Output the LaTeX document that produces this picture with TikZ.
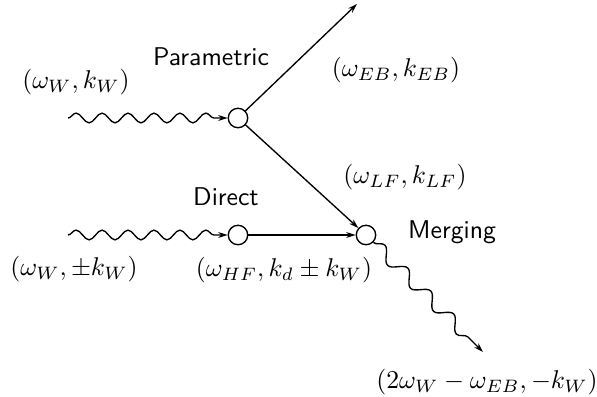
\documentclass[tikz,border=0pt]{standalone}
\usepackage{amsmath}
\usetikzlibrary{arrows,arrows.meta,positioning,decorations.pathmorphing,calc}

\begin{document}
\begin{tikzpicture}[x=0.37pt, y=-0.37pt, >={Stealth[length=3.5pt,width=2.2pt]}, line width=0.5pt]

        \tikzstyle{vertex} = [draw, circle, inner sep=0pt, minimum size=7.2pt, fill=white]
        \tikzstyle{wave} = [decorate, decoration={snake, segment length=9.6pt, amplitude=1.8pt, post length=3pt}]
        \tikzstyle{bigwave} = [decorate, decoration={snake, segment length=12pt, amplitude=2.3pt, post length=3pt}]
        \tikzstyle{stage} = [font=\sffamily, scale=0.95]
        \tikzstyle{pair} = [scale=0.95]
        \tikzstyle{input} = [coordinate]
        \tikzstyle{output} = [coordinate]

        \useasboundingbox (0,0) rectangle (597,396);

        \node [vertex] (P) at (238,118) {};
        \node [vertex] (D) at (238,235) {};
        \node [vertex] (M) at (366,235) {};

        \node [input] (w1) at (68,118) {};
        \node [input] (w2) at (68,235) {};
        \node [output] (eb) at (357,4) {};
        \node [output] (out) at (483,352) {};

        \draw [->, wave] (w1) -- (P);
        \draw [->, wave] (w2) -- (D);
        \draw [->] (P) -- (eb);
        \draw [->] (P) -- (M);
        \draw [->] (D) -- (M);
        \draw [->, bigwave] (M) -- (out);

        \node [stage] (par) at (211,57) {Parametric};
        \node [stage] (dir) at (226,197) {Direct};
        \node [stage] (mer) at (452,232) {Merging};

        \node [pair] (kw) at (76,82) {$(\omega_W, k_W)$};
        \node [pair] (keb) at (396,70) {$(\omega_{EB}, k_{EB})$};
        \node [pair] (klf) at (405,177) {$(\omega_{LF}, k_{LF})$};
        \node [pair] (kpm) at (74,269) {$(\omega_W, \pm k_W)$};
        \node [pair] (khf) at (284,270) {$(\omega_{HF}, k_d \pm k_W)$};
        \node [pair] (kout) at (487,382) {$(2\omega_W - \omega_{EB}, -k_W)$};

\end{tikzpicture}
\end{document}
